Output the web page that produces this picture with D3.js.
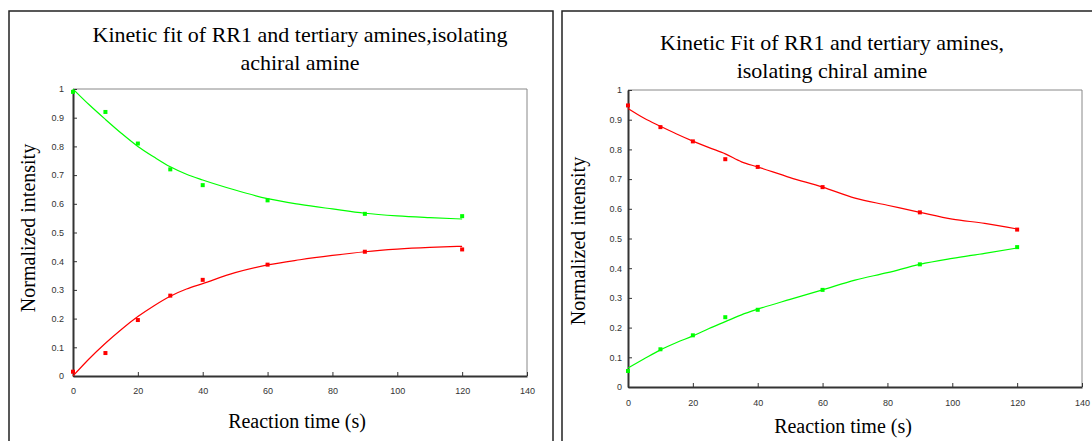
<!DOCTYPE html>
<html>
<head>
<meta charset="utf-8">
<script src="https://cdn.jsdelivr.net/npm/d3@7"></script>
<style>
  body { margin: 0; background: #fff; }
  .tick text { font-family: "Liberation Sans", Arial, sans-serif; font-size: 9px; fill: #333; }
  .ttl { font-family: "Liberation Serif", "Times New Roman", serif; font-size: 20px; fill: #000; }
  .big { font-size: 22px; }
</style>
</head>
<body>
<svg id="chart"></svg>
<script>
// Define SVG area dimensions
var svgWidth = 1092;
var svgHeight = 441;

// measured reaction times (s)
var times = [0, 10, 20, 30, 40, 60, 90, 120];
// times where the fit curve was read
var fitTimes = [0, 5, 10, 15, 20, 25, 30, 35, 40, 50, 60, 70, 80, 90, 100, 110, 120];

// panel 1: isolating achiral amine
var achiralGreen = [0.99, 0.92, 0.81, 0.72, 0.665, 0.612, 0.565, 0.557];
var achiralRed = [0.015, 0.08, 0.195, 0.28, 0.335, 0.388, 0.433, 0.441];
var achiralGreenFit = [1.0, 0.945, 0.894, 0.845, 0.80, 0.763, 0.729, 0.703, 0.683, 0.648, 0.618, 0.598, 0.582, 0.567, 0.558, 0.552, 0.547];
var achiralRedFit = [0.0, 0.06, 0.114, 0.163, 0.207, 0.245, 0.278, 0.303, 0.322, 0.36, 0.387, 0.405, 0.42, 0.433, 0.442, 0.448, 0.452];

// panel 2: isolating chiral amine
var chiralRed = [0.948, 0.875, 0.827, 0.767, 0.741, 0.673, 0.588, 0.53];
var chiralGreen = [0.054, 0.127, 0.174, 0.235, 0.26, 0.327, 0.413, 0.471];
var chiralRedFit = [0.938, 0.905, 0.878, 0.852, 0.828, 0.806, 0.785, 0.758, 0.741, 0.705, 0.673, 0.636, 0.612, 0.588, 0.565, 0.551, 0.532];
var chiralGreenFit = [0.064, 0.095, 0.125, 0.15, 0.172, 0.197, 0.22, 0.243, 0.262, 0.295, 0.327, 0.36, 0.385, 0.413, 0.433, 0.45, 0.468];

var xTicks = [0, 20, 40, 60, 80, 100, 120, 140];
var yTicks = [0, 0.1, 0.2, 0.3, 0.4, 0.5, 0.6, 0.7, 0.8, 0.9, 1];

var svg = d3.select("#chart")
  .attr("width", svgWidth)
  .attr("height", svgHeight);

function drawPanel(p) {
  // outer frame of the panel
  svg.append("rect")
    .attr("x", p.box[0]).attr("y", p.box[1])
    .attr("width", p.box[2]).attr("height", p.box[3])
    .attr("fill", "none").attr("stroke", "#222").attr("stroke-width", 1.5);

  var x = d3.scaleLinear().domain([0, 140]).range([p.left, p.right]);
  var y = d3.scaleLinear().domain([0, 1]).range([p.bottom, p.top]);

  // top and right border
  svg.append("path")
    .attr("d", "M" + p.left + "," + p.top + "H" + p.right + "V" + p.bottom)
    .attr("fill", "none").attr("stroke", "#888").attr("stroke-width", 1);

  var xAxis = svg.append("g")
    .attr("transform", "translate(0," + p.bottom + ")")
    .call(d3.axisBottom(x).tickValues(xTicks).tickFormat(d3.format("d"))
      .tickSizeInner(-4).tickSizeOuter(0).tickPadding(p.xPad));
  var yAxis = svg.append("g")
    .attr("transform", "translate(" + p.left + ",0)")
    .call(d3.axisLeft(y).tickValues(yTicks).tickFormat(function (d) { return d === 0 || d === 1 ? d : d3.format(".1f")(d); })
      .tickSizeInner(-4).tickSizeOuter(0).tickPadding(p.yPad));
  [xAxis, yAxis].forEach(function (g) {
    g.select(".domain").attr("stroke", "#333").attr("stroke-width", 2);
    g.selectAll(".tick line").attr("stroke", "#333");
  });

  var line = d3.line()
    .x(function (d) { return x(d[0]); })
    .y(function (d) { return y(d[1]); })
    .curve(d3.curveMonotoneX);

  p.series.forEach(function (s) {
    svg.append("path")
      .datum(fitTimes.map(function (t, i) { return [t, s.fit[i]]; }))
      .attr("d", line)
      .attr("fill", "none").attr("stroke", s.color).attr("stroke-width", 1.2);
    svg.selectAll(null)
      .data(times.map(function (t, i) { return [t, s.values[i]]; }))
      .enter()
      .append("rect")
      .attr("x", function (d) { return x(d[0]) - 2; })
      .attr("y", function (d) { return y(d[1]) - 2; })
      .attr("width", 4).attr("height", 4)
      .attr("fill", s.color);
  });

  var title = svg.append("text").attr("class", "ttl big").attr("text-anchor", "middle");
  p.title.forEach(function (t, i) {
    title.append("tspan").attr("x", p.titleX).attr("y", p.titleY + i * 28).text(t);
  });

  svg.append("text").attr("class", "ttl").attr("text-anchor", "middle")
    .attr("transform", "translate(" + p.yLabel[0] + "," + p.yLabel[1] + ") rotate(-90)")
    .text("Normalized intensity");

  svg.append("text").attr("class", "ttl").attr("text-anchor", "middle")
    .attr("x", p.xLabel[0]).attr("y", p.xLabel[1])
    .text("Reaction time (s)");
}

drawPanel({
  box: [9, 11, 544, 450],
  left: 73, right: 527, top: 89, bottom: 376,
  xPad: 12, yPad: 9,
  title: ["Kinetic fit of RR1 and tertiary amines,isolating", "achiral amine"],
  titleX: 300, titleY: 42,
  yLabel: [35, 228], xLabel: [297, 428],
  series: [
    { values: achiralGreen, fit: achiralGreenFit, color: "#00ff00" },
    { values: achiralRed, fit: achiralRedFit, color: "#ff0000" }
  ]
});

drawPanel({
  box: [562, 11, 560, 450],
  left: 628, right: 1082, top: 90, bottom: 387,
  xPad: 13, yPad: 6,
  title: ["Kinetic Fit of RR1 and tertiary amines,", "isolating chiral amine"],
  titleX: 832, titleY: 50,
  yLabel: [585, 241], xLabel: [843, 433],
  series: [
    { values: chiralRed, fit: chiralRedFit, color: "#ff0000" },
    { values: chiralGreen, fit: chiralGreenFit, color: "#00ff00" }
  ]
});
</script>
</body>
</html>
